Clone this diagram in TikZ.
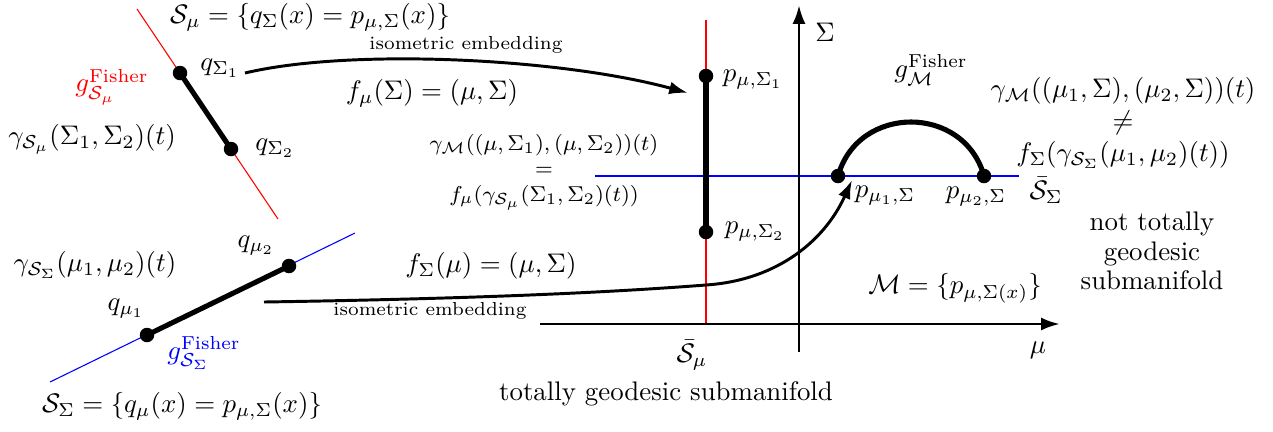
\documentclass[tikz,border=0pt]{standalone}
\usepackage{amsmath,amssymb}
\usetikzlibrary{arrows.meta}

\begin{document}
\begin{tikzpicture}[x=0.3724pt, y=-0.3724pt,
  dot/.style={circle, fill=black, inner sep=0pt, minimum size=5.4pt},
  geo/.style={line width=1.9pt},
  emb/.style={line width=1.1pt, -{Latex[length=7pt,width=4.8pt]}},
  axis/.style={line width=1.1pt, -{Latex[length=7pt,width=4.8pt]}},
  thin line/.style={line width=0.4pt}]
\useasboundingbox (0,0) rectangle (1273,431);
% left top: S_mu, red
\coordinate (rA) at (137,9);
\coordinate (rB) at (278,219);
\draw[thin line, red] (rA) -- (rB);
\node[dot] (qS1) at (180,73) {};
\node[dot] (qS2) at (231,149) {};
\draw[geo] (qS1.center) -- (qS2.center);
\node (lSmu) at (310,17) {$\mathcal{S}_\mu = \{q_\Sigma(x) = p_{\mu,\Sigma}(x)\}$};
\node (lqS1) at (220,68) {$q_{\Sigma_1}$};
\node (lqS2) at (275,148) {$q_{\Sigma_2}$};
\node[red] (lgSmu) at (112,87) {$g^{\text{Fisher}}_{\mathcal{S}_\mu}$};
\node (lgamSmu) at (92,139) {$\gamma_{\mathcal{S}_\mu}(\Sigma_1,\Sigma_2)(t)$};
% left bottom: S_Sigma, blue
\coordinate (bA) at (50,382);
\coordinate (bB) at (355,233);
\draw[thin line, blue] (bA) -- (bB);
\node[dot] (qm1) at (147,335) {};
\node[dot] (qm2) at (289,266) {};
\draw[geo] (qm1.center) -- (qm2.center);
\node (lqm2) at (256,246) {$q_{\mu_2}$};
\node (lqm1) at (126,309) {$q_{\mu_1}$};
\node (lgamSS) at (95,265) {$\gamma_{\mathcal{S}_\Sigma}(\mu_1,\mu_2)(t)$};
\node[blue] (lgSS) at (204,353) {$g^{\text{Fisher}}_{\mathcal{S}_\Sigma}$};
\node (lSS) at (182,406) {$\mathcal{S}_\Sigma = \{q_\mu(x) = p_{\mu,\Sigma}(x)\}$};
% axes
\coordinate (xs) at (540,324);
\coordinate (xe) at (1060,324);
\coordinate (ys) at (799,352);
\coordinate (ye) at (799,5);
\draw[thin line, red] (706,20) coordinate (rT) -- (706,324) coordinate (rD);
\draw[thin line, blue] (595,176) coordinate (bL) -- (1019,176) coordinate (bR);
\draw[axis] (xs) -- (xe);
\draw[axis] (ys) -- (ye);
\node (lSig) at (825,32) {$\Sigma$};
\node (lmu) at (1038,350) {$\mu$};
% M: points and geodesics
\node[dot] (pS1) at (706,76) {};
\node[dot] (pS2) at (706,232) {};
\draw[geo] (pS1.center) -- (pS2.center);
\node[dot] (pm1) at (838,176) {};
\node[dot] (pm2) at (984,176) {};
\draw[line width=1.9pt] (pm1.center) .. controls (858,104) and (964,104) .. (pm2.center);
\node (lpS1) at (753,80) {$p_{\mu,\Sigma_1}$};
\node (lpS2) at (755,232) {$p_{\mu,\Sigma_2}$};
\node (lpm1) at (885,196) {$p_{\mu_1,\Sigma}$};
\node (lpm2) at (976,197) {$p_{\mu_2,\Sigma}$};
\node (lgM) at (931,70) {$g^{\text{Fisher}}_{\mathcal{M}}$};
\node (lSbS) at (1046,190) {$\bar{\mathcal{S}}_\Sigma$};
\node (lSbm) at (692,355) {$\bar{\mathcal{S}}_\mu$};
\node (ltot) at (666,394) {totally geodesic submanifold};
\node[align=center] (lnot) at (1152,251) {not totally\\[-1pt]geodesic\\[-1pt]submanifold};
\node (lM) at (955,288) {$\mathcal{M} = \{p_{\mu,\Sigma(x)}\}$};
\node[align=center, font=\footnotesize] (leq) at (544,172)
  {$\gamma_{\mathcal{M}}((\mu,\Sigma_1),(\mu,\Sigma_2))(t)$\\ $=$\\ $f_\mu(\gamma_{\mathcal{S}_\mu}(\Sigma_1,\Sigma_2)(t))$};
\node[align=center] (lneq) at (1123,123)
  {$\gamma_{\mathcal{M}}((\mu_1,\Sigma),(\mu_2,\Sigma))(t)$\\ $\neq$\\ $f_\Sigma(\gamma_{\mathcal{S}_\Sigma}(\mu_1,\mu_2)(t))$};
% embeddings
\coordinate (e1s) at (245,73);
\coordinate (e1e) at (688,93);
\draw[emb] (e1s) .. controls (350,48) and (560,58) .. (e1e);
\node[font=\scriptsize] (liso1) at (466,45) {isometric embedding};
\node (lfmu) at (432,93) {$f_\mu(\Sigma) = (\mu,\Sigma)$};
\coordinate (e2s) at (264,302);
\coordinate (e2m) at (706,285);
\coordinate (e2e) at (852,180);
\draw[emb] (e2s) .. controls (520,298) and (640,290) .. (e2m)
  .. controls (780,280) and (826,238) .. (e2e);
\node[font=\scriptsize] (liso2) at (430,311) {isometric embedding};
\node (lfSig) at (491,266) {$f_\Sigma(\mu) = (\mu,\Sigma)$};
\end{tikzpicture}
\end{document}
